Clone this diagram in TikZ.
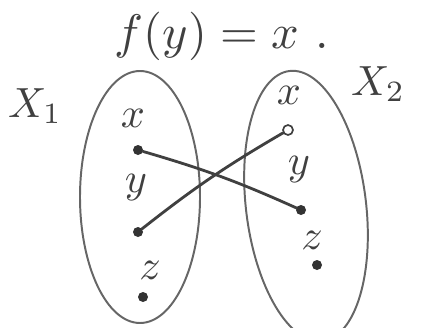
\documentclass[tikz,border=0pt]{standalone}
\usetikzlibrary{shapes.geometric}

\begin{document}
\begin{tikzpicture}[x=0.5mm,y=-0.5mm,
    set/.style={draw=black!60,ellipse,line width=2.8pt},
    elem/.style={circle,fill=black!80,inner sep=0pt,minimum size=5mm},
    lbl/.style={text=black!75,scale=6},
    link/.style={black!75,line width=4pt,line cap=round}]
  \useasboundingbox (0,0) rectangle (422,327);

  % the two sets
  \node[set,minimum width=60mm,minimum height=126mm] (setA) at (140,197) {};
  \node[set,minimum width=60mm,minimum height=136mm,rotate=7] (setB) at (306,206) {};

  % headline and set names
  \node[lbl,scale=1.15] (rule) at (222,36) {$f(y) = x$\,\,.};
  \node[lbl] (nameA) at (35,106) {$X_1$};
  \node[lbl] (nameB) at (378,84) {$X_2$};

  % elements of X1
  \node[lbl] (ax) at (133,118) {$x$};
  \node[elem] (pa) at (138,150) {};
  \node[lbl] (ay) at (136,188) {$y$};
  \node[elem] (pb) at (138,232) {};
  \node[lbl] (az) at (150,270) {$z$};
  \node[elem] (pc) at (143,297) {};

  % elements of X2
  \node[lbl] (bx) at (289,95) {$x$};
  \node[elem,fill=white,draw=black!75,line width=2.4pt] (qa) at (288,130) {};
  \node[lbl] (by) at (299,170) {$y$};
  \node[elem] (qb) at (301,210) {};
  \node[lbl] (bz) at (312,240) {$z$};
  \node[elem] (qc) at (317,265) {};

  % the map
  \draw[link] (pa) to[bend left=4] (qb);
  \draw[link] (pb) to[bend left=4] (qa);
\end{tikzpicture}
\end{document}
